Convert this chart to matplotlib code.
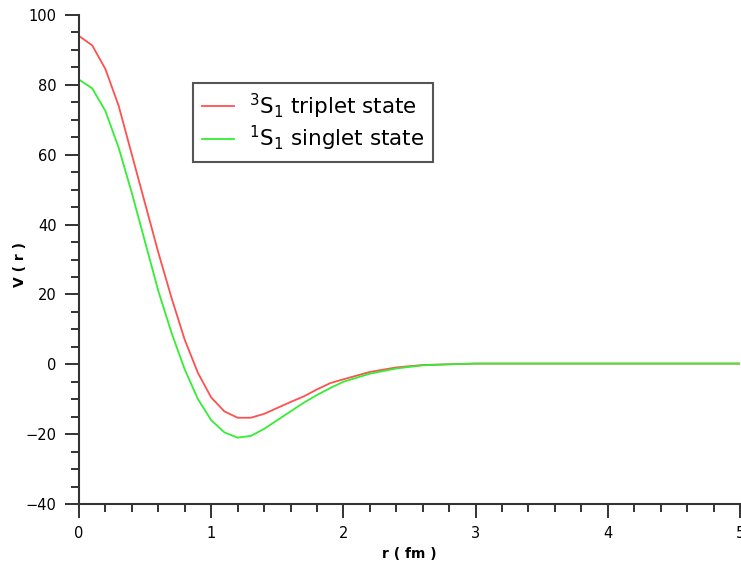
import numpy as np
import matplotlib
matplotlib.use('Agg')
import matplotlib.pyplot as plt
from matplotlib.ticker import MultipleLocator

# potential values
r_fm = [0.0, 0.1, 0.2, 0.3, 0.4, 0.5, 0.6, 0.7, 0.8, 0.9, 1.0, 1.1, 1.2, 1.3,
        1.4, 1.5, 1.6, 1.7, 1.8, 1.9, 2.0, 2.2, 2.4, 2.6, 2.8, 3.0, 5.0]
v_triplet = [94, 91.3, 84.5, 74, 60, 46, 32, 19, 7, -2.5, -9.5, -13.5, -15.3, -15.3,
             -14.2, -12.5, -10.8, -9.2, -7.2, -5.4, -4.3, -2.2, -0.9, -0.2, 0, 0.2, 0.2]
v_singlet = [81.5, 79, 72.5, 62, 49, 35, 21, 9, -1.5, -10, -16, -19.5, -21, -20.5,
             -18.5, -16, -13.5, -11, -8.8, -6.8, -5, -2.7, -1.2, -0.3, 0, 0.2, 0.2]
labels = [r'$^{3}$S$_{1}$ triplet state', r'$^{1}$S$_{1}$ singlet state']

plt.rcParams['mathtext.default'] = 'regular'
fig = plt.figure(figsize=(7.41, 5.68), dpi=100)
ax = fig.add_axes([79 / 741, 64 / 568, 661 / 741, 489 / 568])

ax.plot(r_fm, v_triplet, color='#ff5050', lw=1.3, label=labels[0])
ax.plot(r_fm, v_singlet, color='#33ee33', lw=1.3, label=labels[1])

ax.set_xlim(0, 5)
ax.set_ylim(-40, 100)
ax.xaxis.set_major_locator(MultipleLocator(1))
ax.xaxis.set_minor_locator(MultipleLocator(0.2))
ax.yaxis.set_major_locator(MultipleLocator(20))
ax.yaxis.set_minor_locator(MultipleLocator(5))

for s in ['top', 'right']:
    ax.spines[s].set_visible(False)
for s in ['left', 'bottom']:
    ax.spines[s].set_color('#333333')
    ax.spines[s].set_linewidth(1.5)
ax.tick_params(which='major', length=10, width=1.4, color='#333333',
               labelsize=10.5, pad=6)
ax.tick_params(which='minor', length=5.5, width=1.4, color='#333333')

ax.set_xlabel('r ( fm )', fontsize=10, fontweight='bold', labelpad=4)
ax.set_ylabel('V ( r )', fontsize=10, fontweight='bold')
ax.yaxis.set_label_coords(-0.078, 0.49)

leg = ax.legend(loc='upper left', bbox_to_anchor=(0.1725, 0.861), borderaxespad=0,
                fontsize=15.5, fancybox=False, handlelength=1.5, framealpha=1,
                borderpad=0.4, labelspacing=0.15, handletextpad=0.7)
leg.get_frame().set_edgecolor('#555555')
leg.get_frame().set_linewidth(1.5)

fig.savefig('out.png', dpi=100)
